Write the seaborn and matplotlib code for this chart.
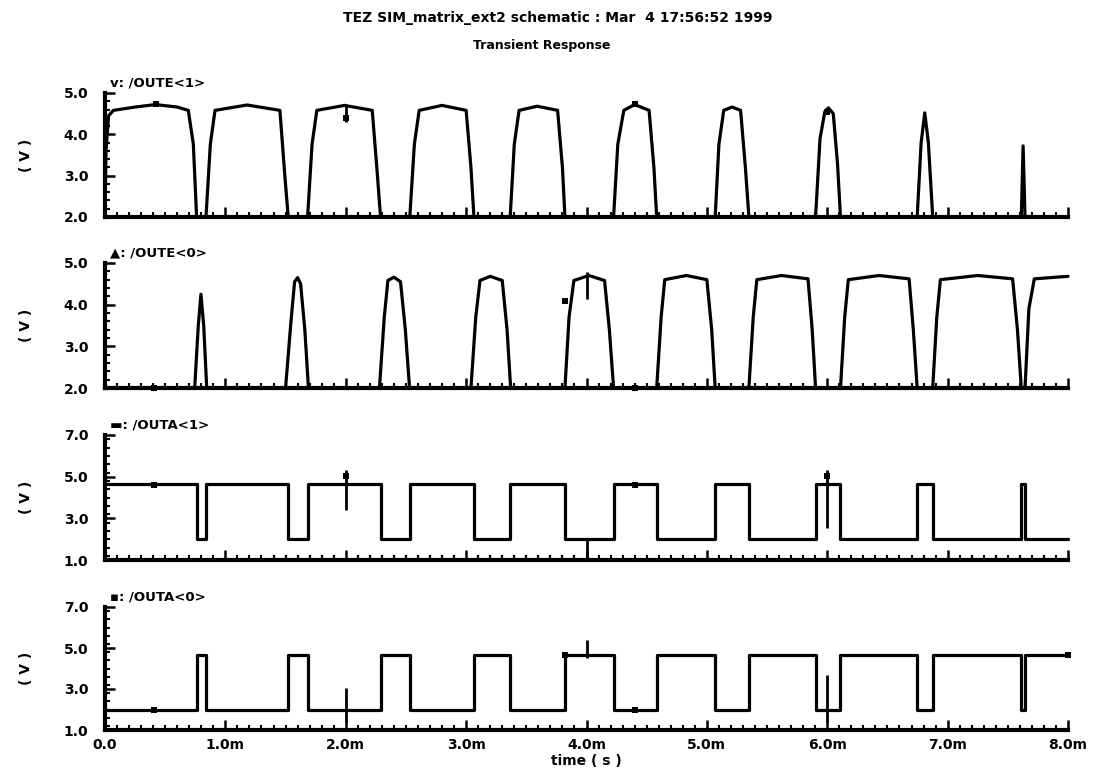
import numpy as np
import pandas as pd
import matplotlib
matplotlib.use("Agg")
import matplotlib.pyplot as plt
from matplotlib.ticker import MultipleLocator, FixedLocator
import seaborn as sns

# ---------------- data (time in ms, voltage in V) ----------------
title_line1 = "TEZ SIM_matrix_ext2 schematic : Mar  4 17:56:52 1999"
title_line2 = "Transient Response"
panel_names = ["v: /OUTE<1>", "\u25b2: /OUTE<0>", "\u25ac: /OUTA<1>", "\u25aa: /OUTA<0>"]

oute1_t = [0.000, 0.008, 0.030, 0.070, 0.250, 0.420, 0.600, 0.692, 0.734, 0.761,
           0.839, 0.875, 0.914, 1.180, 1.453, 1.495, 1.522,
           1.683, 1.720, 1.760, 1.990, 2.220, 2.258, 2.289,
           2.532, 2.570, 2.610, 2.800, 3.000, 3.040, 3.065,
           3.366, 3.400, 3.440, 3.590, 3.760, 3.800, 3.821,
           4.225, 4.260, 4.310, 4.400, 4.520, 4.560, 4.583,
           5.069, 5.100, 5.140, 5.210, 5.280, 5.320, 5.349,
           5.903, 5.940, 5.980, 6.010, 6.050, 6.085, 6.110,
           6.747, 6.780, 6.810, 6.840, 6.876,
           7.612, 7.627, 7.643, 8.000]
oute1_v = [2.00, 3.60, 4.45, 4.58, 4.66, 4.72, 4.66, 4.58, 3.76, 2.00,
           2.00, 3.76, 4.58, 4.71, 4.58, 2.96, 2.00,
           2.00, 3.76, 4.58, 4.70, 4.58, 3.20, 2.00,
           2.00, 3.76, 4.58, 4.70, 4.58, 3.20, 2.00,
           2.00, 3.76, 4.58, 4.68, 4.58, 3.20, 2.00,
           2.00, 3.76, 4.58, 4.72, 4.58, 3.20, 2.00,
           2.00, 3.76, 4.58, 4.66, 4.58, 3.20, 2.00,
           2.00, 3.90, 4.55, 4.64, 4.50, 3.30, 2.00,
           2.00, 3.80, 4.52, 3.80, 2.00,
           2.00, 3.72, 2.00, 2.00]

oute0_t = [0.000, 0.745, 0.775, 0.797, 0.820, 0.845,
           1.500, 1.545, 1.575, 1.600, 1.625, 1.660, 1.690,
           2.280, 2.320, 2.350, 2.400, 2.455, 2.495, 2.530,
           3.040, 3.080, 3.115, 3.200, 3.300, 3.340, 3.370,
           3.821, 3.855, 3.895, 4.020, 4.150, 4.190, 4.225,
           4.583, 4.620, 4.650, 4.830, 5.000, 5.040, 5.069,
           5.349, 5.385, 5.415, 5.620, 5.840, 5.875, 5.903,
           6.110, 6.145, 6.175, 6.430, 6.680, 6.715, 6.747,
           6.876, 6.910, 6.940, 7.250, 7.540, 7.580, 7.612,
           7.643, 7.675, 7.720, 8.000]
oute0_v = [2.00, 2.00, 3.50, 4.25, 3.50, 2.00,
           2.00, 3.60, 4.55, 4.65, 4.50, 3.40, 2.00,
           2.00, 3.70, 4.58, 4.66, 4.55, 3.40, 2.00,
           2.00, 3.70, 4.58, 4.68, 4.58, 3.40, 2.00,
           2.00, 3.70, 4.58, 4.70, 4.58, 3.40, 2.00,
           2.00, 3.70, 4.60, 4.70, 4.60, 3.40, 2.00,
           2.00, 3.70, 4.60, 4.70, 4.62, 3.40, 2.00,
           2.00, 3.70, 4.60, 4.70, 4.62, 3.40, 2.00,
           2.00, 3.70, 4.60, 4.70, 4.62, 3.40, 2.00,
           2.00, 3.90, 4.62, 4.68]

edge_t = [0.000, 0.761, 0.839, 1.522, 1.683, 2.289, 2.532, 3.065, 3.366, 3.821,
          4.225, 4.583, 5.069, 5.349, 5.903, 6.110, 6.747, 6.876, 7.612, 7.643, 8.000]
outa1_v = [4.65, 2.00, 4.65, 2.00, 4.65, 2.00, 4.65, 2.00, 4.65, 2.00,
           4.65, 2.00, 4.65, 2.00, 4.65, 2.00, 4.65, 2.00, 4.65, 2.00, 2.00]
outa0_v = [2.00, 4.65, 2.00, 4.65, 2.00, 4.65, 2.00, 4.65, 2.00, 4.65,
           2.00, 4.65, 2.00, 4.65, 2.00, 4.65, 2.00, 4.65, 2.00, 4.65, 4.65]

# cursor / marker segments per panel: (time, vmin, vmax)
cursor_segments = [
    [(2.0, 4.30, 4.72)],
    [(4.0, 4.13, 4.79)],
    [(2.0, 3.40, 5.32), (4.0, 1.00, 2.00), (6.0, 2.52, 5.32)],
    [(2.0, 1.41, 3.06), (4.0, 4.49, 5.38), (6.0, 1.41, 3.68)],
]
marker_t = [[0.42, 2.0, 6.0, 4.40], [3.82, 0.41, 4.40], [0.41, 4.40, 2.0, 6.0], [0.41, 4.40, 3.82, 8.0]]
marker_v = [[4.74, 4.40, 4.55, 4.74], [4.10, 2.0, 2.0], [4.62, 4.62, 5.05, 5.05], [2.0, 2.0, 4.65, 4.65]]

y_ticks = [[2.0, 3.0, 4.0, 5.0], [2.0, 3.0, 4.0, 5.0], [1.0, 3.0, 5.0, 7.0], [1.0, 3.0, 5.0, 7.0]]
y_ticklabels = [["2.0", "3.0", "4.0", "5.0"], ["2.0", "3.0", "4.0", "5.0"],
                ["1.0", "3.0", "5.0", "7.0"], ["1.0", "3.0", "5.0", "7.0"]]
x_ticks = [0, 1, 2, 3, 4, 5, 6, 7, 8]
x_ticklabels = ["0.0", "1.0m", "2.0m", "3.0m", "4.0m", "5.0m", "6.0m", "7.0m", "8.0m"]

# ---------------- figure ----------------
sns.set_theme(style="white")
plt.rcParams["font.family"] = ["DejaVu Sans"]
plt.rcParams["font.weight"] = "bold"
plt.rcParams["text.color"] = "black"
plt.rcParams["axes.labelcolor"] = "black"
plt.rcParams["xtick.color"] = "black"
plt.rcParams["ytick.color"] = "black"

W, H = 1105, 772
fig = plt.figure(figsize=(W / 100, H / 100), dpi=100)
fig.patch.set_facecolor("white")

tops = [93, 263, 435, 607]
bottoms = [217, 388, 560, 730]
x0, x1 = 105, 1068

traces = [
    (pd.DataFrame({"t": oute1_t, "v": oute1_v}), None),
    (pd.DataFrame({"t": oute0_t, "v": oute0_v}), None),
    (pd.DataFrame({"t": edge_t, "v": outa1_v}), "steps-post"),
    (pd.DataFrame({"t": edge_t, "v": outa0_v}), "steps-post"),
]

for i in range(4):
    ax = fig.add_axes([x0 / W, 1 - bottoms[i] / H, (x1 - x0) / W, (bottoms[i] - tops[i]) / H])
    df, ds = traces[i]
    kw = {}
    if ds:
        kw["drawstyle"] = ds
    sns.lineplot(data=df, x="t", y="v", ax=ax, color="black", linewidth=2.3,
                 estimator=None, sort=False, clip_on=False, **kw)
    for (ct, lo, hi) in cursor_segments[i]:
        ax.vlines(ct, lo, hi, color="black", linewidth=2.0, clip_on=False)
    sns.scatterplot(x=marker_t[i], y=marker_v[i], ax=ax, color="black", marker="s",
                    s=14, linewidth=0, clip_on=False)

    ymin, ymax = y_ticks[i][0], y_ticks[i][-1]
    ax.set_xlim(0, 8)
    ax.set_ylim(ymin, ymax)
    ax.yaxis.set_major_locator(FixedLocator(y_ticks[i]))
    ax.set_yticklabels(y_ticklabels[i], fontsize=10, fontweight="bold")
    ax.yaxis.set_minor_locator(MultipleLocator(0.2 if i < 2 else 0.4))
    ax.xaxis.set_major_locator(FixedLocator(x_ticks))
    ax.xaxis.set_minor_locator(MultipleLocator(0.1))
    if i == 3:
        ax.set_xticklabels(x_ticklabels, fontsize=10, fontweight="bold")
        ax.set_xlabel("time ( s )", fontsize=10, fontweight="bold", labelpad=1)
    else:
        ax.set_xticklabels([])
        ax.set_xlabel("")
    ax.set_ylabel("( V )", fontsize=10, fontweight="bold", labelpad=22)
    ax.tick_params(axis="both", which="both", bottom=True, left=True, top=False, right=False)
    ax.tick_params(axis="both", which="major", direction="in", length=7, width=1.8,
                   color="black", pad=12, labelcolor="black")
    ax.tick_params(axis="x", which="major", pad=6)
    ax.tick_params(axis="both", which="minor", direction="in", length=3.5, width=1.5,
                   color="black")
    for s in ["top", "right"]:
        ax.spines[s].set_visible(False)
    for s in ["left", "bottom"]:
        ax.spines[s].set_visible(True)
        ax.spines[s].set_linewidth(3)
        ax.spines[s].set_color("black")
    ax.set_facecolor("white")
    ax.text(0.005, 1.03, panel_names[i], transform=ax.transAxes, ha="left", va="bottom",
            fontsize=9.5, fontweight="bold", family=["DejaVu Sans"], color="black")

fig.text(0.505, 1 - 18 / H, title_line1, ha="center", va="center", fontsize=10,
         fontweight="bold", color="black")
fig.text(0.49, 1 - 45 / H, title_line2, ha="center", va="center", fontsize=9,
         fontweight="bold", color="black")

fig.savefig("out.png", dpi=100, facecolor="white")
